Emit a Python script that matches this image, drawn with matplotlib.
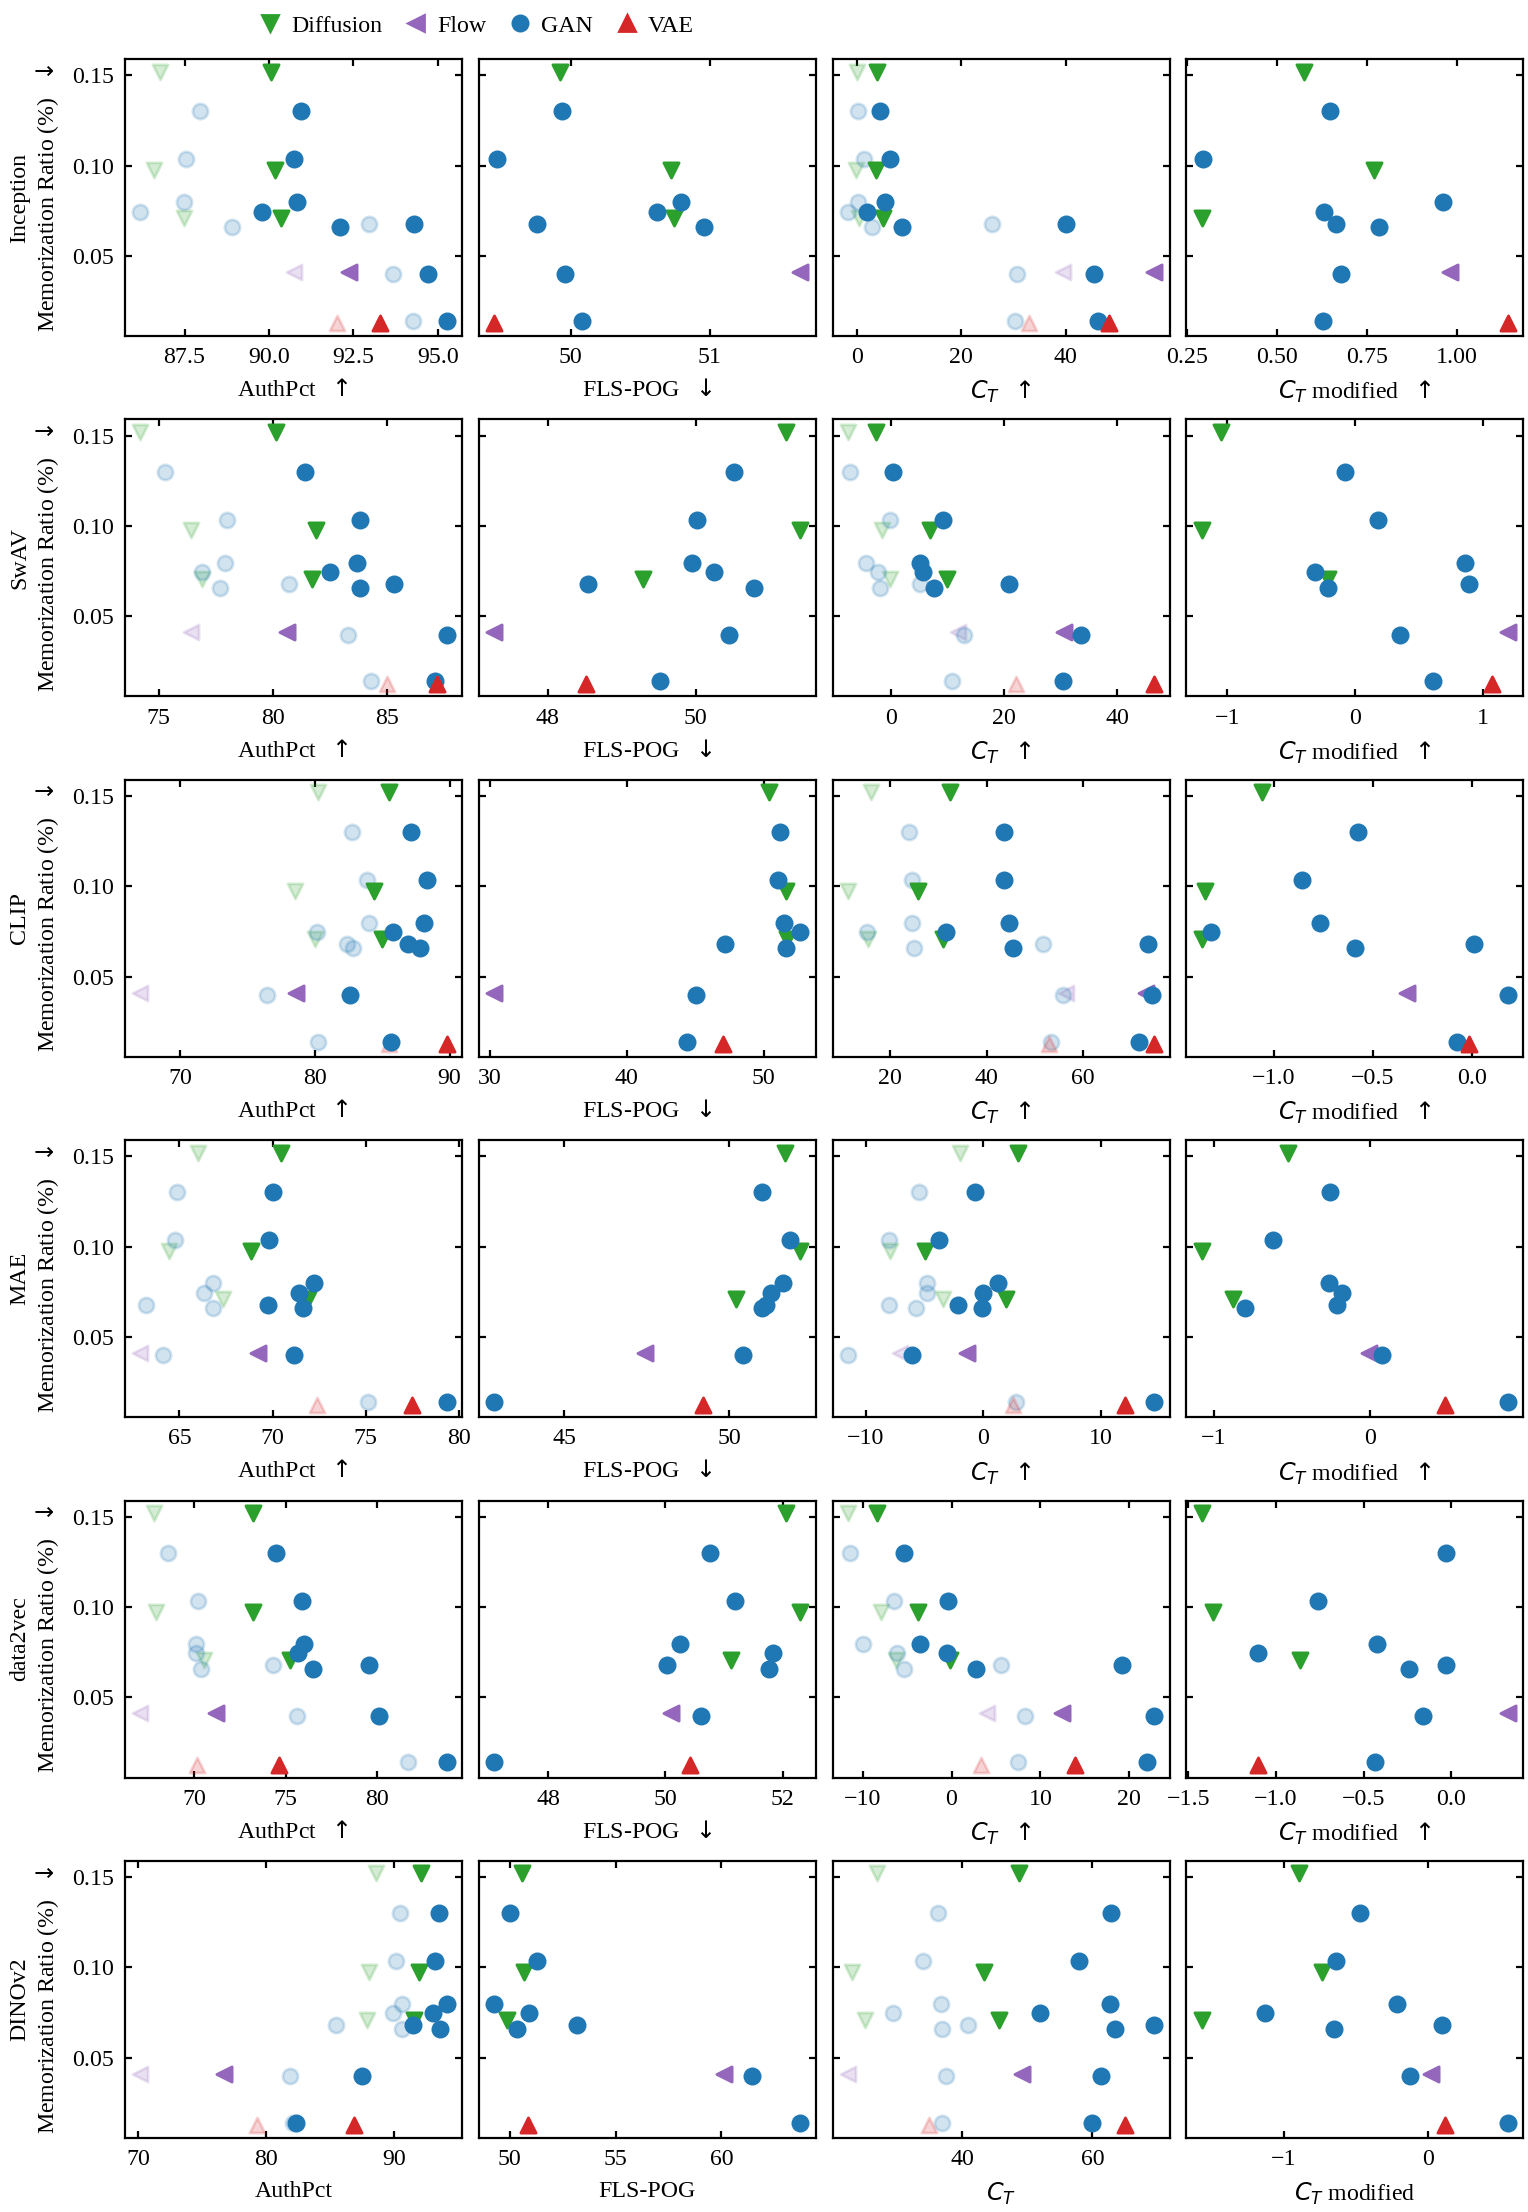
import matplotlib
matplotlib.use("Agg")
import matplotlib.pyplot as plt
from matplotlib.lines import Line2D
import numpy as np

plt.rcParams['font.family'] = ['Liberation Serif', 'DejaVu Serif']
plt.rcParams['font.size'] = 8.6
plt.rcParams['axes.unicode_minus'] = True

# ---------------- data ----------------
encoders = ["Inception", "SwAV", "CLIP", "MAE", "data2vec", "DINOv2"]
model_types = ["Diffusion", "GAN", "GAN", "Diffusion", "GAN", "GAN", "Diffusion",
               "GAN", "GAN", "Flow", "GAN", "GAN", "VAE"]
mem_ratio = [0.152, 0.130, 0.1035, 0.0975, 0.0797, 0.0745, 0.0709,
             0.0679, 0.0659, 0.0412, 0.0398, 0.0140, 0.0126]

# Inception
inc_auth = [90.06, 90.96, 90.75, 90.19, 90.84, 89.78, 90.35, 94.30, 92.09, 92.38, 94.70, 95.26, 93.30]
inc_auth_f = [86.78, 87.96, 87.53, 86.60, 87.47, 86.19, 87.47, 92.96, 88.90, 90.74, 93.68, 94.27, 92.00]
inc_fls = [49.92, 49.94, 49.47, 50.72, 50.79, 50.62, 50.74, 49.76, 50.96, 51.65, 49.96, 50.08, 49.45]
inc_ct = [3.9, 4.5, 6.3, 3.7, 5.3, 1.9, 5.1, 40.0, 8.6, 56.9, 45.3, 46.1, 48.3]
inc_ct_f = [0.0, 0.2, 1.3, -0.2, 0.2, -1.7, 0.4, 25.9, 2.9, 39.4, 30.7, 30.2, 33.0]
inc_ctm = [0.575, 0.647, 0.295, 0.770, 0.962, 0.631, 0.291, 0.664, 0.783, 0.981, 0.679, 0.628, 1.143]

# SwAV
swav_auth = [80.13, 81.4, 83.8, 81.9, 83.7, 82.5, 81.7, 85.3, 83.8, 80.6, 87.6, 87.1, 87.2]
swav_auth_f = [74.2, 75.3, 78.0, 76.4, 77.9, 76.9, 76.9, 80.7, 77.7, 76.4, 83.3, 84.3, 85.0]
swav_fls = [51.21, 50.52, 50.02, 51.41, 49.95, 50.24, 49.29, 48.55, 50.78, 47.28, 50.44, 49.52, 48.52]
swav_ct = [-2.7, 0.35, 9.2, 6.9, 5.1, 5.6, 9.9, 20.9, 7.7, 30.6, 33.7, 30.5, 46.6]
swav_ct_f = [-7.6, -7.3, -0.2, -1.5, -4.4, -2.2, -0.2, 5.2, -2.0, 11.8, 12.9, 10.8, 22.1]
swav_ctm = [-1.05, -0.08, 0.18, -1.20, 0.86, -0.31, -0.21, 0.89, -0.21, 1.20, 0.35, 0.61, 1.07]

# CLIP
clip_auth = [85.53, 87.16, 88.35, 84.38, 88.13, 85.83, 84.97, 86.9, 87.77, 78.59, 82.63, 85.62, 89.78]
clip_auth_f = [80.19, 82.78, 83.9, 78.55, 84.0, 80.15, 80.0, 82.37, 82.85, 67.03, 76.47, 80.19, 85.47]
clip_fls = [50.4, 51.2, 51.06, 51.67, 51.49, 52.69, 51.74, 47.16, 51.63, 30.33, 45.09, 44.39, 47.01]
clip_ct = [32.4, 43.5, 43.5, 25.8, 44.6, 31.6, 30.9, 73.4, 45.4, 73.1, 74.4, 71.6, 74.8]
clip_ct_f = [16.0, 23.8, 24.4, 11.2, 24.4, 15.2, 15.3, 51.6, 25.0, 56.4, 55.8, 53.3, 53.0]
clip_ctm = [-1.062, -0.578, -0.859, -1.348, -0.765, -1.316, -1.365, 0.012, -0.593, -0.328, 0.183, -0.074, -0.017]

# MAE
mae_auth = [70.46, 70.05, 69.79, 68.83, 72.25, 71.42, 71.93, 69.76, 71.61, 69.20, 71.15, 79.35, 77.47]
mae_auth_f = [66.02, 64.87, 64.76, 64.46, 66.79, 66.33, 67.33, 63.2, 66.79, 62.9, 64.1, 75.15, 72.39]
mae_fls = [51.70, 51.0, 51.85, 52.16, 51.64, 51.28, 50.21, 51.12, 50.98, 47.44, 50.41, 42.88, 49.21]
mae_ct = [2.9, -0.7, -3.8, -5.0, 1.2, -0.05, 1.9, -2.2, -0.1, -1.4, -6.1, 14.5, 12.0]
mae_ct_f = [-2.0, -5.5, -8.0, -7.9, -4.8, -4.8, -3.4, -8.0, -5.75, -7.1, -11.5, 2.75, 2.5]
mae_ctm = [-0.525, -0.258, -0.623, -1.079, -0.264, -0.182, -0.88, -0.214, -0.80, -0.01, 0.075, 0.884, 0.481]

# data2vec
d2v_auth = [73.24, 74.47, 75.89, 73.19, 75.99, 75.67, 75.26, 79.56, 76.51, 71.2, 80.08, 83.79, 74.66]
d2v_auth_f = [67.82, 68.58, 70.22, 67.93, 70.08, 70.08, 70.52, 74.3, 70.38, 67.06, 75.6, 81.7, 70.16]
d2v_fls = [52.06, 50.76, 51.18, 52.30, 50.24, 51.84, 51.12, 50.02, 51.76, 50.09, 50.61, 47.08, 50.42]
d2v_ct = [-8.4, -5.35, -0.4, -3.75, -3.5, -0.5, -0.2, 19.2, 2.75, 12.45, 22.8, 21.95, 13.85]
d2v_ct_f = [-11.65, -11.4, -6.45, -7.95, -10.0, -6.1, -6.2, 5.6, -5.35, 3.95, 8.3, 7.5, 3.35]
d2v_ctm = [-1.424, -0.031, -0.758, -1.357, -0.425, -1.105, -0.862, -0.031, -0.241, 0.325, -0.160, -0.437, -1.105]

# DINOv2
dino_auth = [92.1, 93.46, 93.19, 91.91, 94.09, 93.04, 91.52, 91.44, 93.54, 76.69, 87.47, 82.33, 86.85]
dino_auth_f = [88.6, 90.43, 90.16, 88.05, 90.58, 89.88, 87.86, 85.49, 90.58, 70.19, 81.83, 82.14, 79.3]
dino_fls = [50.6, 50.0, 51.29, 50.67, 49.26, 50.93, 49.88, 53.19, 50.33, 60.14, 61.43, 63.73, 50.88]
dino_ct = [48.7, 62.9, 57.9, 43.4, 62.7, 52.0, 45.7, 69.5, 63.5, 49.25, 61.4, 59.9, 65.0]
dino_ct_f = [26.9, 36.3, 34.0, 23.1, 36.8, 29.4, 25.1, 40.9, 36.9, 22.5, 37.6, 36.9, 35.0]
dino_ctm = [-0.891, -0.469, -0.636, -0.735, -0.211, -1.129, -1.568, 0.099, -0.653, 0.02, -0.126, 0.558, 0.122]

# tick positions per row / column
xticks = [
    [[87.5, 90.0, 92.5, 95.0], [50, 51], [0, 20, 40], [0.25, 0.50, 0.75, 1.00]],
    [[75, 80, 85], [48, 50], [0, 20, 40], [-1, 0, 1]],
    [[70, 80, 90], [30, 40, 50], [20, 40, 60], [-1.0, -0.5, 0.0]],
    [[65, 70, 75, 80], [45, 50], [-10, 0, 10], [-1, 0]],
    [[70, 75, 80], [48, 50, 52], [-10, 0, 10, 20], [-1.5, -1.0, -0.5, 0.0]],
    [[70, 80, 90], [50, 55, 60], [40, 60], [-1, 0]],
]
yticks = [0.05, 0.10, 0.15]

metric_names = ["AuthPct", "FLS-POG", "$C_T$", "$C_T$ modified"]
metric_arrows = [r"$\uparrow$", r"$\downarrow$", r"$\uparrow$", r"$\uparrow$"]

rows = [
    (inc_auth, inc_auth_f, inc_fls, inc_ct, inc_ct_f, inc_ctm),
    (swav_auth, swav_auth_f, swav_fls, swav_ct, swav_ct_f, swav_ctm),
    (clip_auth, clip_auth_f, clip_fls, clip_ct, clip_ct_f, clip_ctm),
    (mae_auth, mae_auth_f, mae_fls, mae_ct, mae_ct_f, mae_ctm),
    (d2v_auth, d2v_auth_f, d2v_fls, d2v_ct, d2v_ct_f, d2v_ctm),
    (dino_auth, dino_auth_f, dino_fls, dino_ct, dino_ct_f, dino_ctm),
]

type_order = ["Diffusion", "Flow", "GAN", "VAE"]
type_color = {"Diffusion": "#2ca02c", "Flow": "#9467bd", "GAN": "#1f77b4", "VAE": "#d62728"}
type_marker = {"Diffusion": "v", "Flow": "<", "GAN": "o", "VAE": "^"}
MS = 30

# ---------------- figure ----------------
fig, axes = plt.subplots(6, 4, figsize=(7.64, 11.06), dpi=200, sharey=True)
fig.subplots_adjust(left=0.0818, right=0.9970, top=0.9733, bottom=0.0335,
                    wspace=0.05, hspace=0.301)

types_arr = np.array(model_types)
y_arr = np.array(mem_ratio)


def draw(ax, xs, alpha):
    xs = np.array(xs)
    for t in type_order:
        m = types_arr == t
        ax.scatter(xs[m], y_arr[m], s=MS, marker=type_marker[t],
                   color=type_color[t], alpha=alpha, linewidths=1.0, zorder=2)


for r, (auth, auth_f, fls, ct, ct_f, ctm) in enumerate(rows):
    panels = [(auth, auth_f), (fls, None), (ct, ct_f), (ctm, None)]
    for c, (solid, faded) in enumerate(panels):
        ax = axes[r, c]
        if faded is not None:
            draw(ax, faded, 0.2)
        draw(ax, solid, 1.0)
        ax.margins(x=0.05, y=0.05)
        ax.autoscale_view()
        xl = ax.get_xlim()
        ax.set_xticks(xticks[r][c])
        ax.set_xlim(xl)
        if r < 5:
            ax.set_xlabel(metric_names[c] + "  " + metric_arrows[c])
        else:
            ax.set_xlabel(metric_names[c])
        ax.tick_params(direction="in", top=True, right=True, length=2.4,
                       width=0.8, labelsize=8.6, pad=4)
        for sp in ax.spines.values():
            sp.set_linewidth(0.8)
    axes[r, 0].set_ylabel(encoders[r] + "\nMemorization Ratio (%)  " + r"$\downarrow$",
                          multialignment="center")

axes[0, 0].set_yticks(yticks)

handles = [Line2D([], [], linestyle="none", marker=type_marker[t], color=type_color[t],
                  markersize=np.sqrt(MS)) for t in type_order]
fig.legend(handles, type_order, loc="center", ncol=4, frameon=False,
           bbox_to_anchor=(476 / 1528, 1 - 26 / 2212), handlelength=1.0,
           handletextpad=0.4, columnspacing=0.9, fontsize=8.6)

fig.savefig("out.png", dpi=200)
